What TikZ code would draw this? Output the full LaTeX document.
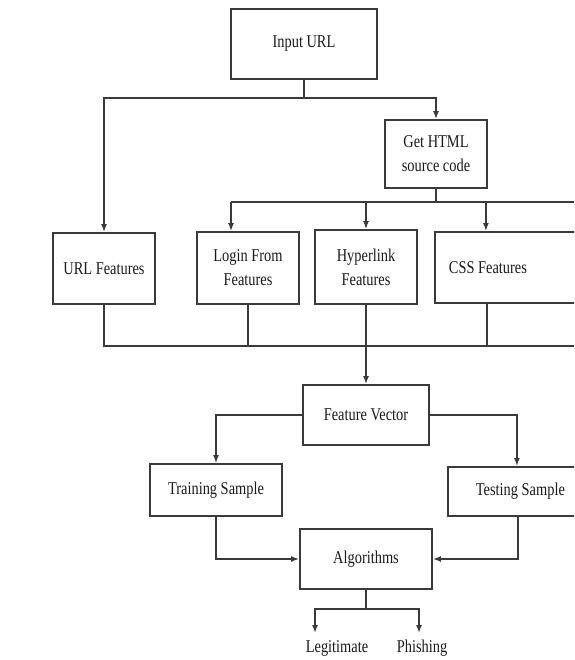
\documentclass[tikz,border=0pt]{standalone}
\usepackage{fontspec}
\setmainfont{Liberation Serif}[FakeStretch=0.8]
\usetikzlibrary{arrows.meta,calc}
\definecolor{linec}{HTML}{3A3A3A}
\definecolor{textc}{HTML}{1A1A1A}
\begin{document}
\begin{tikzpicture}[x=1pt,y=-1pt,
  box/.style={draw=linec,line width=1.8pt,rectangle,inner sep=0pt,align=center,text=textc,
    font=\fontsize{18}{24}\selectfont},
  lbl/.style={inner sep=0pt,text=textc,font=\fontsize{18}{24}\selectfont},
  conn/.style={draw=linec,line width=1.8pt},
  arr/.style={conn,-{Latex[length=8pt,width=6pt]}}]
\useasboundingbox (0,0) rectangle (574,660);
\clip (0,0) rectangle (574,660);
\fill[white] (0,0) rectangle (574,660);
% nodes
\node[box,minimum width=146,minimum height=70] (input) at (304,44) {Input URL};
\node[box,minimum width=102,minimum height=68] (html) at (436,154) {Get HTML\\source code};
\node[box,minimum width=102,minimum height=71] (url) at (104,268.5) {URL Features};
\node[box,minimum width=102,minimum height=72] (login) at (248,268) {Login From\\Features};
\node[box,minimum width=102,minimum height=74] (hyper) at (366,267) {Hyperlink\\Features};
\node[box,anchor=west,minimum height=71,inner xsep=14] (css) at (434,267.5) {\makebox[150pt][l]{CSS Features}};
\node[box,minimum width=126,minimum height=60] (fv) at (366,415) {Feature Vector};
\node[box,minimum width=132,minimum height=52] (train) at (216,490) {Training Sample};
\node[box,anchor=west,minimum height=49,inner xsep=28] (test) at (447,491.5) {\makebox[120pt][l]{Testing Sample}};
\node[box,minimum width=132,minimum height=60] (algo) at (366,559) {Algorithms};
\node[lbl,anchor=base] (legit) at (337,652) {Legitimate};
\node[lbl,anchor=base] (phish) at (422,652) {Phishing};
% coordinates
\coordinate (b1) at (input.south |- 0,98);
\coordinate (b2) at (html.south |- 0,202);
\coordinate (b2r) at (600,202);
\coordinate (b3) at (hyper.south |- 0,346);
\coordinate (b3r) at (600,346);
\coordinate (b4) at (algo.south |- 0,609);
\coordinate (lt) at (315,633);
\coordinate (pt) at (419,633);
% connectors
\draw[conn] (input.south) -- (b1);
\draw[arr] (b1) -| (url.north);
\draw[arr] (b1) -| (html.north);
\draw[conn] (html.south) -- (b2);
\draw[conn] (b2) -| ([xshift=-17pt]login.north |- b2) -- (b2r);
\draw[arr] ([xshift=-17pt]login.north |- b2) -- ([xshift=-17pt]login.north);
\draw[arr] (hyper.north |- b2) -- (hyper.north);
\draw[arr] ([xshift=-38pt]css.north |- b2) -- ([xshift=-38pt]css.north);
\draw[conn] (url.south) |- (b3r);
\draw[conn] (login.south) -- (login.south |- b3);
\draw[conn] (hyper.south) -- (b3);
\draw[conn] ([xshift=-37pt]css.south) -- ([xshift=-37pt]css.south |- b3);
\draw[arr] (b3) -- (fv.north);
\draw[arr] (fv.west) -| (train.north);
\draw[arr] (fv.east) -| ([xshift=-19pt]test.north);
\draw[arr] (train.south) |- (algo.west);
\draw[arr] ([xshift=-18pt]test.south) |- (algo.east);
\draw[conn] (algo.south) -- (b4);
\draw[arr] (b4) -| (lt);
\draw[arr] (b4) -| (pt);
\end{tikzpicture}
\end{document}
